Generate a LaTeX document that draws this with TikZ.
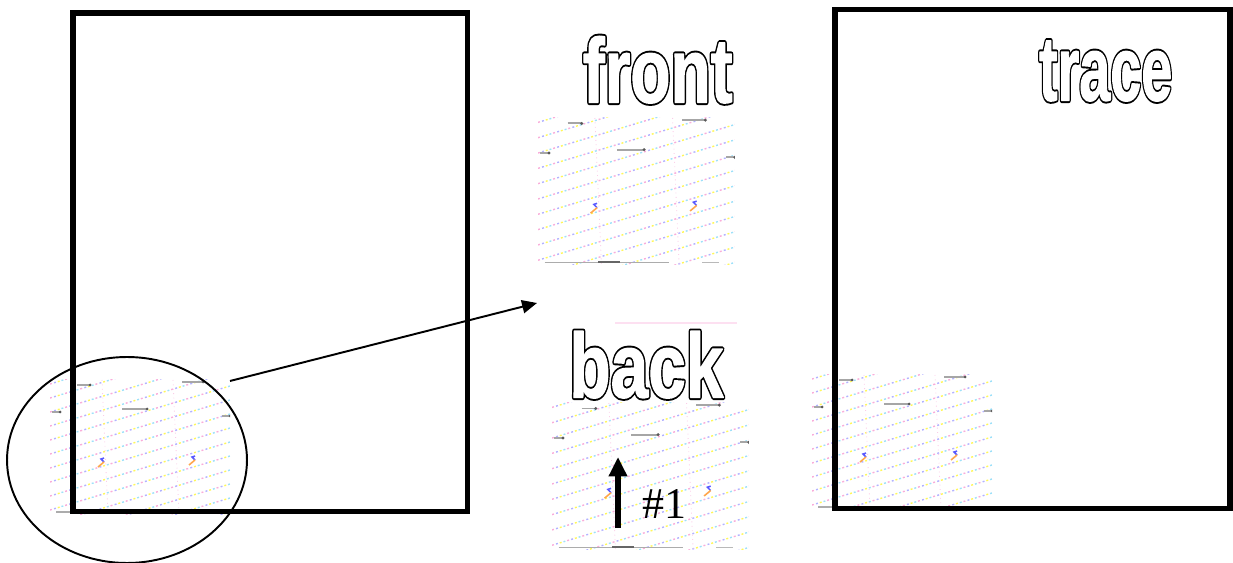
\documentclass[tikz,border=0pt]{standalone}
\usepackage{fontspec}
\setmainfont{Liberation Serif}
\newfontfamily\wordfont{Liberation Sans Bold}
\newfontfamily\numfont{Liberation Serif}
\usepackage{graphicx}
\usepackage{tikz}
\usetikzlibrary{arrows.meta}

\newcommand{\outlined}[1]{%
	\rlap{\special{pdf:literal direct 1 j 3 w 1 Tr}#1\special{pdf:literal direct 0 Tr}}%
	{\color{white}\special{pdf:literal direct 1 j 0.8 w 2 Tr}#1\special{pdf:literal direct 0 Tr}}}

\newcommand{\scanpatch}[3]{%
	\begin{scope}[shift={(#1,#2)}, scale=#3]
		\clip (0,0) rectangle (180,134);
		\foreach \k in {-1,...,12}
		{
			\foreach \col/\ph in {magenta!32/0pt, cyan!38/2.2pt, yellow!65/4.4pt, blue!30/6.6pt}
				\draw [scandots, draw=\col, dash phase=\ph] (0,18+14*\k) -- (180,-36+14*\k);
		}
		\draw [magenta!20, line width=0.5pt, dotted] (52,0) -- (58,134);
		\draw [magenta!20, line width=0.5pt, dotted] (123,0) -- (129,134);
		\foreach \xa/\xb/\y in {27/40/5, 132/153/2, 72/97/29, 2/10/32, 172/180/36}
		{
			\draw [scanmark] (\xa,\y) -- (\xb,\y);
			\fill [black!65] (\xb,\y) circle (1.5);
		}
		\foreach \x/\y in {52/82, 143/80}
		{
			\draw [blue!65, line width=0.9pt] (\x+2,\y-4) -- (\x-1,\y-3) -- (\x+2,\y);
			\draw [orange!70, line width=0.9pt] (\x+2,\y) -- (\x-4,\y+5);
		}
		\draw [gray!65, line width=1pt] (6,132) -- (120,132);
		\draw [black!60, line width=1.2pt] (55,132) -- (75,132);
		\draw [gray!55, line width=1pt] (150,132) -- (165,132);
	\end{scope}}

\tikzset{
	sheet/.style={line width=3.4pt},
	scandots/.style={line width=0.8pt, dash pattern=on 1.1pt off 7.9pt},
	scanmark/.style={gray!70, line width=1.1pt},
	word/.style={anchor=base west, inner sep=0pt, font=\wordfont\fontsize{52}{56}\selectfont}
}

\begin{document}
\begin{tikzpicture}[x=0.02cm, y=-0.02cm]
	\useasboundingbox (0,0) rectangle (1233,563);
	
	\scanpatch{50}{380}{1}
	\scanpatch{538}{118}{1.094}
	\scanpatch{552}{403}{1.094}
	\scanpatch{812}{375}{1}
	\draw [magenta!12, line width=0.6pt] (615,323) -- (737,323);
	
	\draw [sheet] (73,13) rectangle (467.5,511.5);
	\draw [sheet] (835,9.5) rectangle (1230,508.5);
	
	\coordinate (lens) at (127,460);
	\draw [line width=1.1pt] (lens) ellipse [x radius=2.4cm, y radius=2.06cm];
	
	\coordinate (zoomfrom) at (230,381);
	\coordinate (zoomto) at (537,303);
	\draw [line width=1.1pt, -{Triangle[length=8.5pt, width=7.5pt]}] (zoomfrom) -- (zoomto);
	
	\coordinate (pushfrom) at (618,528);
	\coordinate (pushto) at (618,457);
	\draw [line width=3.8pt, -{Triangle[length=11pt, width=10pt]}] (pushfrom) -- (pushto);
	\node [anchor=base west, inner sep=0pt, font=\numfont\fontsize{25}{28}\selectfont] at (642,518) (pushlabel) {\#1};
	
	\node [word] at (582.5,102.4) (front) {\scalebox{0.72}[1]{\outlined{front}}};
	\node [word] at (569,397.4) (back) {\scalebox{0.74}[1]{\outlined{back}}};
	\node [word] at (1038.7,100.4) (trace) {\scalebox{0.61}[1]{\outlined{trace}}};
\end{tikzpicture}
\end{document}
